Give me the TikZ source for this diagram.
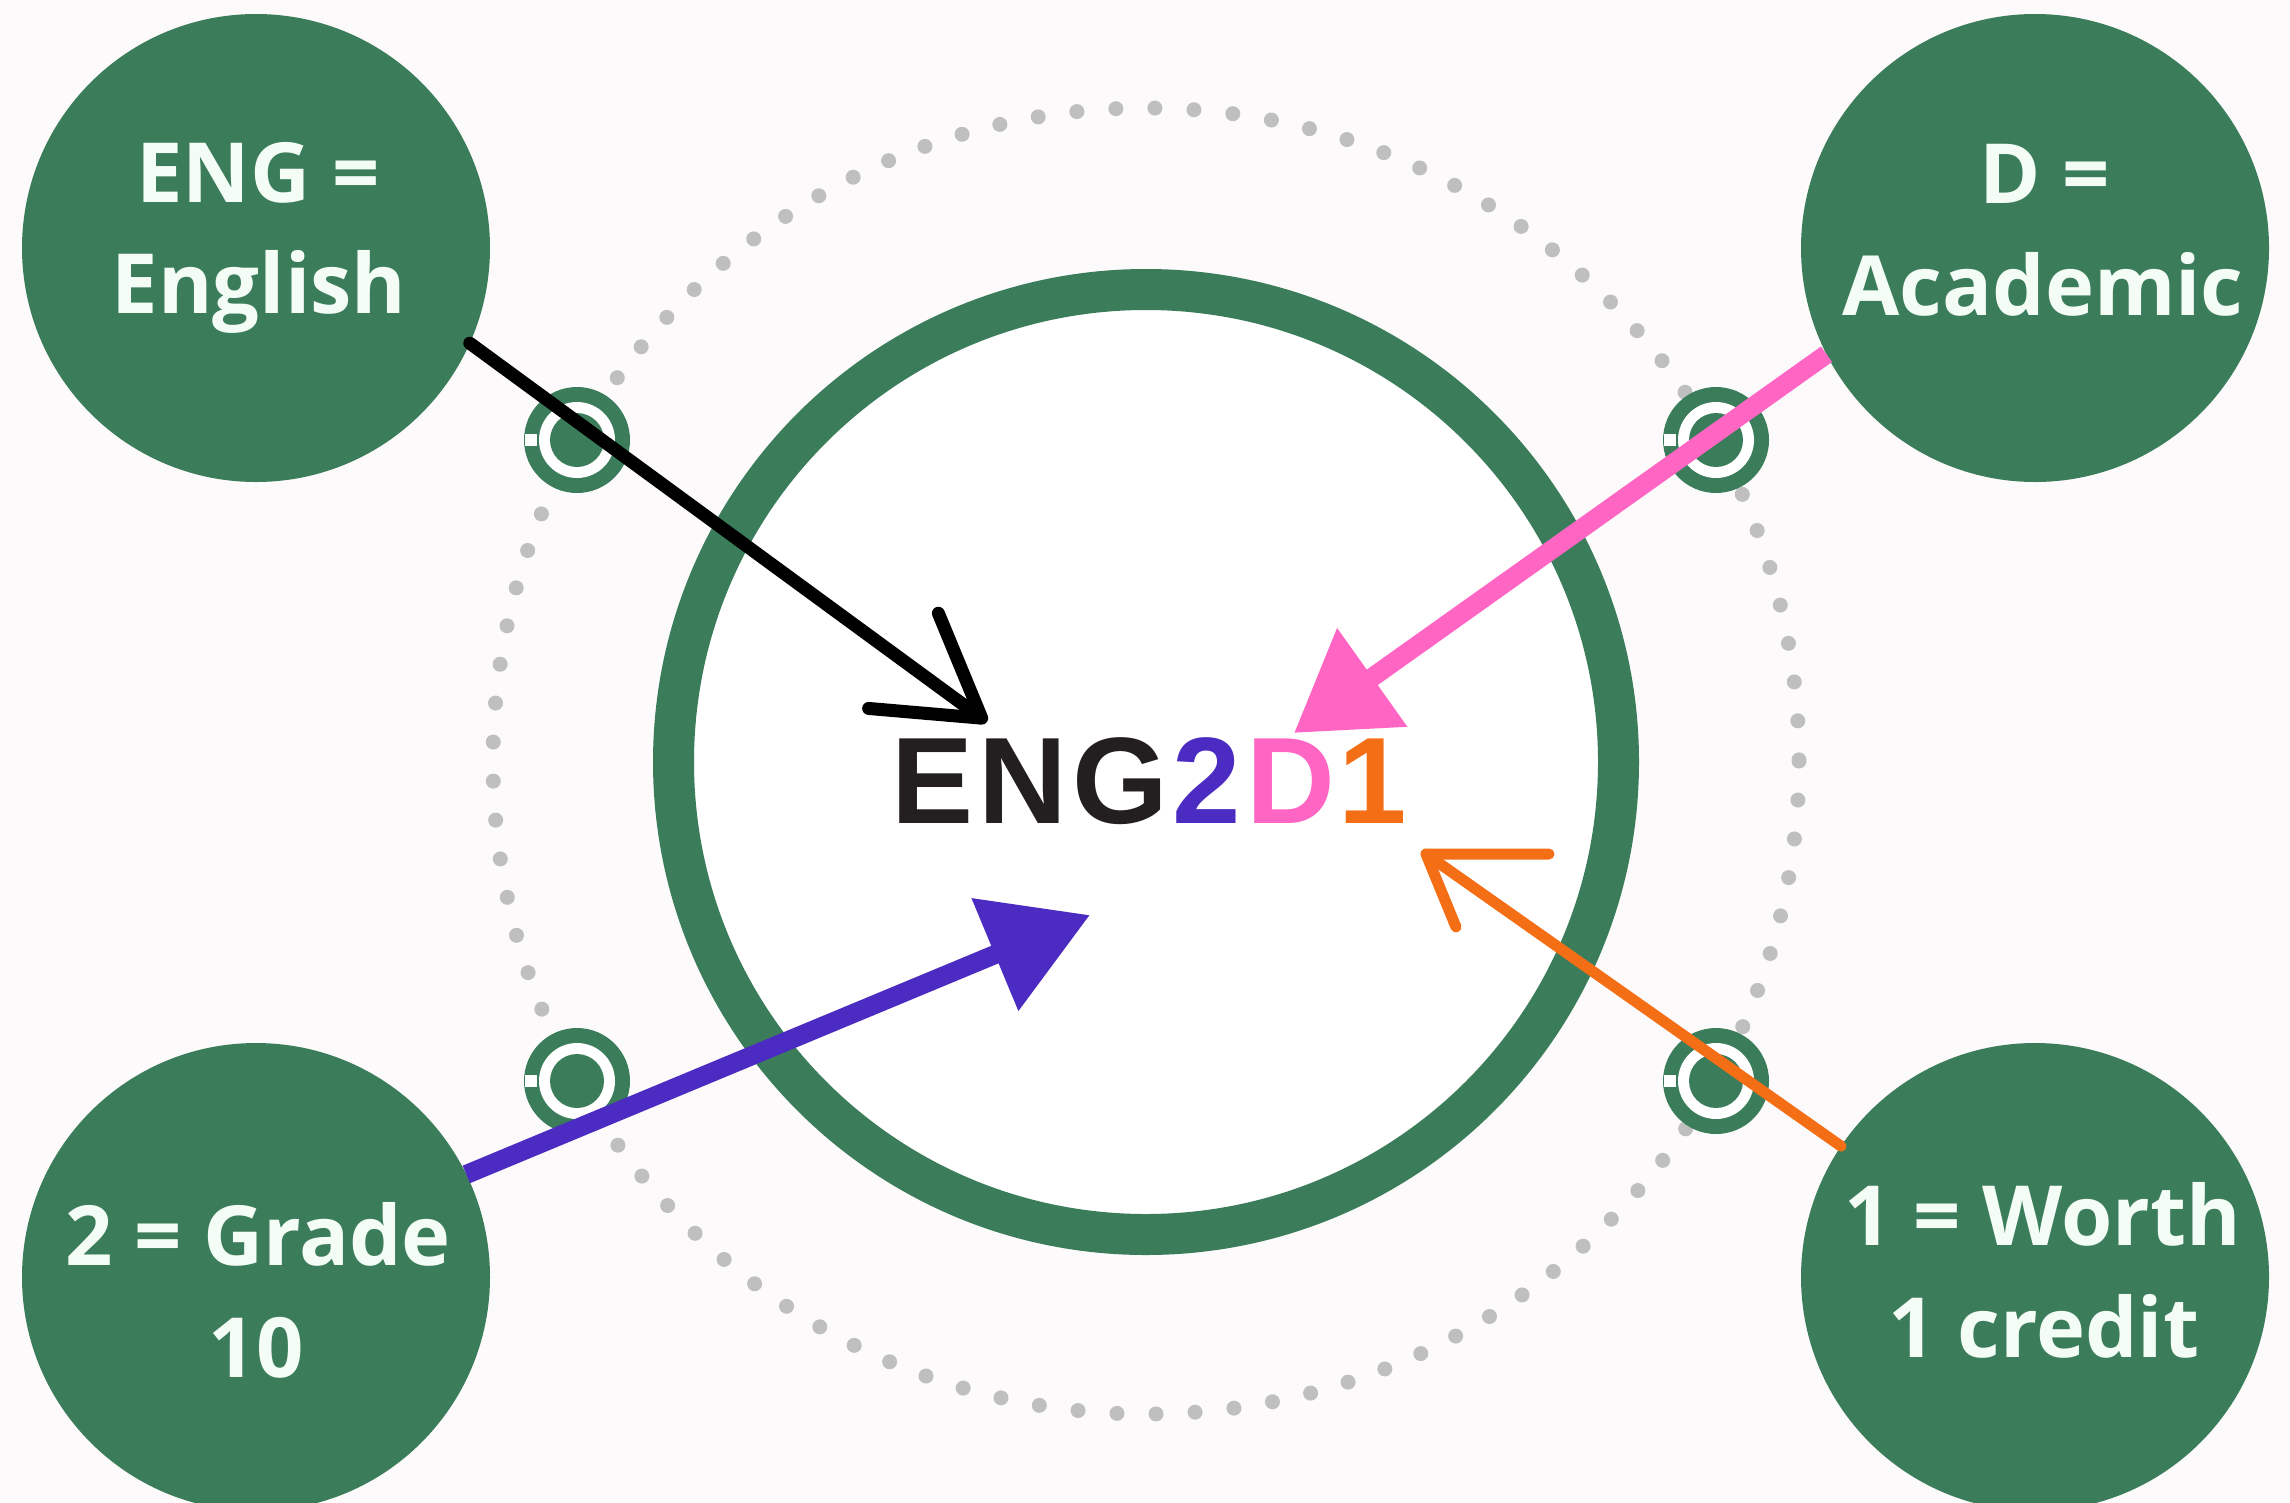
\documentclass[tikz,border=0pt]{standalone}
\usepackage{fontspec}
\setmainfont{Open Sans}
\newfontfamily\codefont{Liberation Sans}
\usetikzlibrary{arrows.meta}
\definecolor{bg}{HTML}{FCFAFB}
\definecolor{grn}{HTML}{3B7D5B}
\definecolor{dotc}{HTML}{BFBFBF}
\definecolor{pnk}{HTML}{FF66C4}
\definecolor{purp}{HTML}{4B2BC1}
\definecolor{orng}{HTML}{F46E16}
\definecolor{codeblack}{HTML}{231F20}
\definecolor{wtxt}{HTML}{F4FCF6}
\begin{document}
\begin{tikzpicture}[x=1pt,y=-1pt,
  bigc/.style={circle,fill=grn,minimum size=468pt,inner sep=0pt,outer sep=0pt},
  lbl/.style={anchor=base,text=wtxt,font=\bfseries\fontsize{83}{111}\selectfont,inner sep=0pt},
  mkouter/.style={circle,fill=grn,minimum size=106pt,inner sep=0pt,outer sep=0pt},
  mkwhite/.style={circle,fill=white,minimum size=76pt,inner sep=0pt,outer sep=0pt},
  mkinner/.style={circle,fill=grn,minimum size=54pt,inner sep=0pt,outer sep=0pt},
  notch/.style={fill=white,minimum width=12pt,minimum height=12pt,inner sep=0pt,outer sep=0pt}]
\useasboundingbox (0,0) rectangle (2290,1502);
\clip (0,0) rectangle (2290,1502);
\fill[bg] (0,0) rectangle (2290,1502);
% dotted circle
\draw[dotc,line width=15pt,line cap=round,dash pattern=on 0pt off 39.07pt] (1146,761) circle[radius=653];
% main ring
\node[circle,draw=grn,fill=white,line width=41pt,minimum size=945pt,inner sep=0pt] (ring) at (1146,762) {};
% markers
\foreach \n/\x/\y in {m1/577/440, m2/1716/440, m3/577/1081, m4/1716/1081}{
  \node[mkouter] (\n o) at (\x,\y) {};
  \node[mkwhite] (\n w) at (\x,\y) {};
  \node[mkinner] (\n i) at (\x,\y) {};
  \node[notch] (\n n) at (\x-46,\y) {};
}
% arrow tips
\coordinate (tipK) at (987,722);
\coordinate (tipP) at (1294,733);
\coordinate (tipV) at (1090,915);
\coordinate (tipO) at (1426,854);
% outer circles
\node[bigc] (tl) at (256,248) {};
\node[bigc] (tr) at (2035,248) {};
\node[bigc] (bl) at (256,1277) {};
\node[bigc] (br) at (2035,1277) {};
% arrows
\draw[line width=13pt,black,line cap=round,-{Straight Barb[length=97pt,width=118pt,round]}] (tl.-24.8) -- (tipK);
\draw[line width=19pt,pnk,-{Triangle[length=96pt,width=116pt]}] (tr.207.8) -- (tipP);
\draw[line width=19pt,purp,-{Triangle[length=103pt,width=117pt]}] (bl.26.8) -- (tipV);
\draw[line width=11pt,orng,line cap=round] (br.146) -- (tipO);
\draw[line width=11pt,orng,line cap=round,line join=round] ([shift={(123,0)}]tipO) -- (tipO) -- ([shift={(30,73)}]tipO);
% labels
\node[lbl] (tlA) at (258,202) {ENG =};
\node[lbl] (tlB) at (259,313) {English};
\node[lbl] (trA) at (2045,203) {D =};
\node[lbl] (trB) at (2043,315) {Academic};
\node[lbl] (blA) at (258,1265) {2 = Grade};
\node[lbl] (blB) at (256,1377) {10};
\node[lbl] (brA) at (2043,1245) {1 = Worth};
\node[lbl] (brB) at (2044,1357) {1 credit};
% code
\node[anchor=base,inner sep=0pt,text=codeblack] (code) at (1149,823)
  {\codefont\bfseries\fontsize{123}{123}\selectfont E\kern5pt N\kern5pt G\kern5pt\textcolor{purp}{2}\kern5pt\textcolor{pnk}{D}\kern3pt\textcolor{orng}{1}};
\end{tikzpicture}
\end{document}
